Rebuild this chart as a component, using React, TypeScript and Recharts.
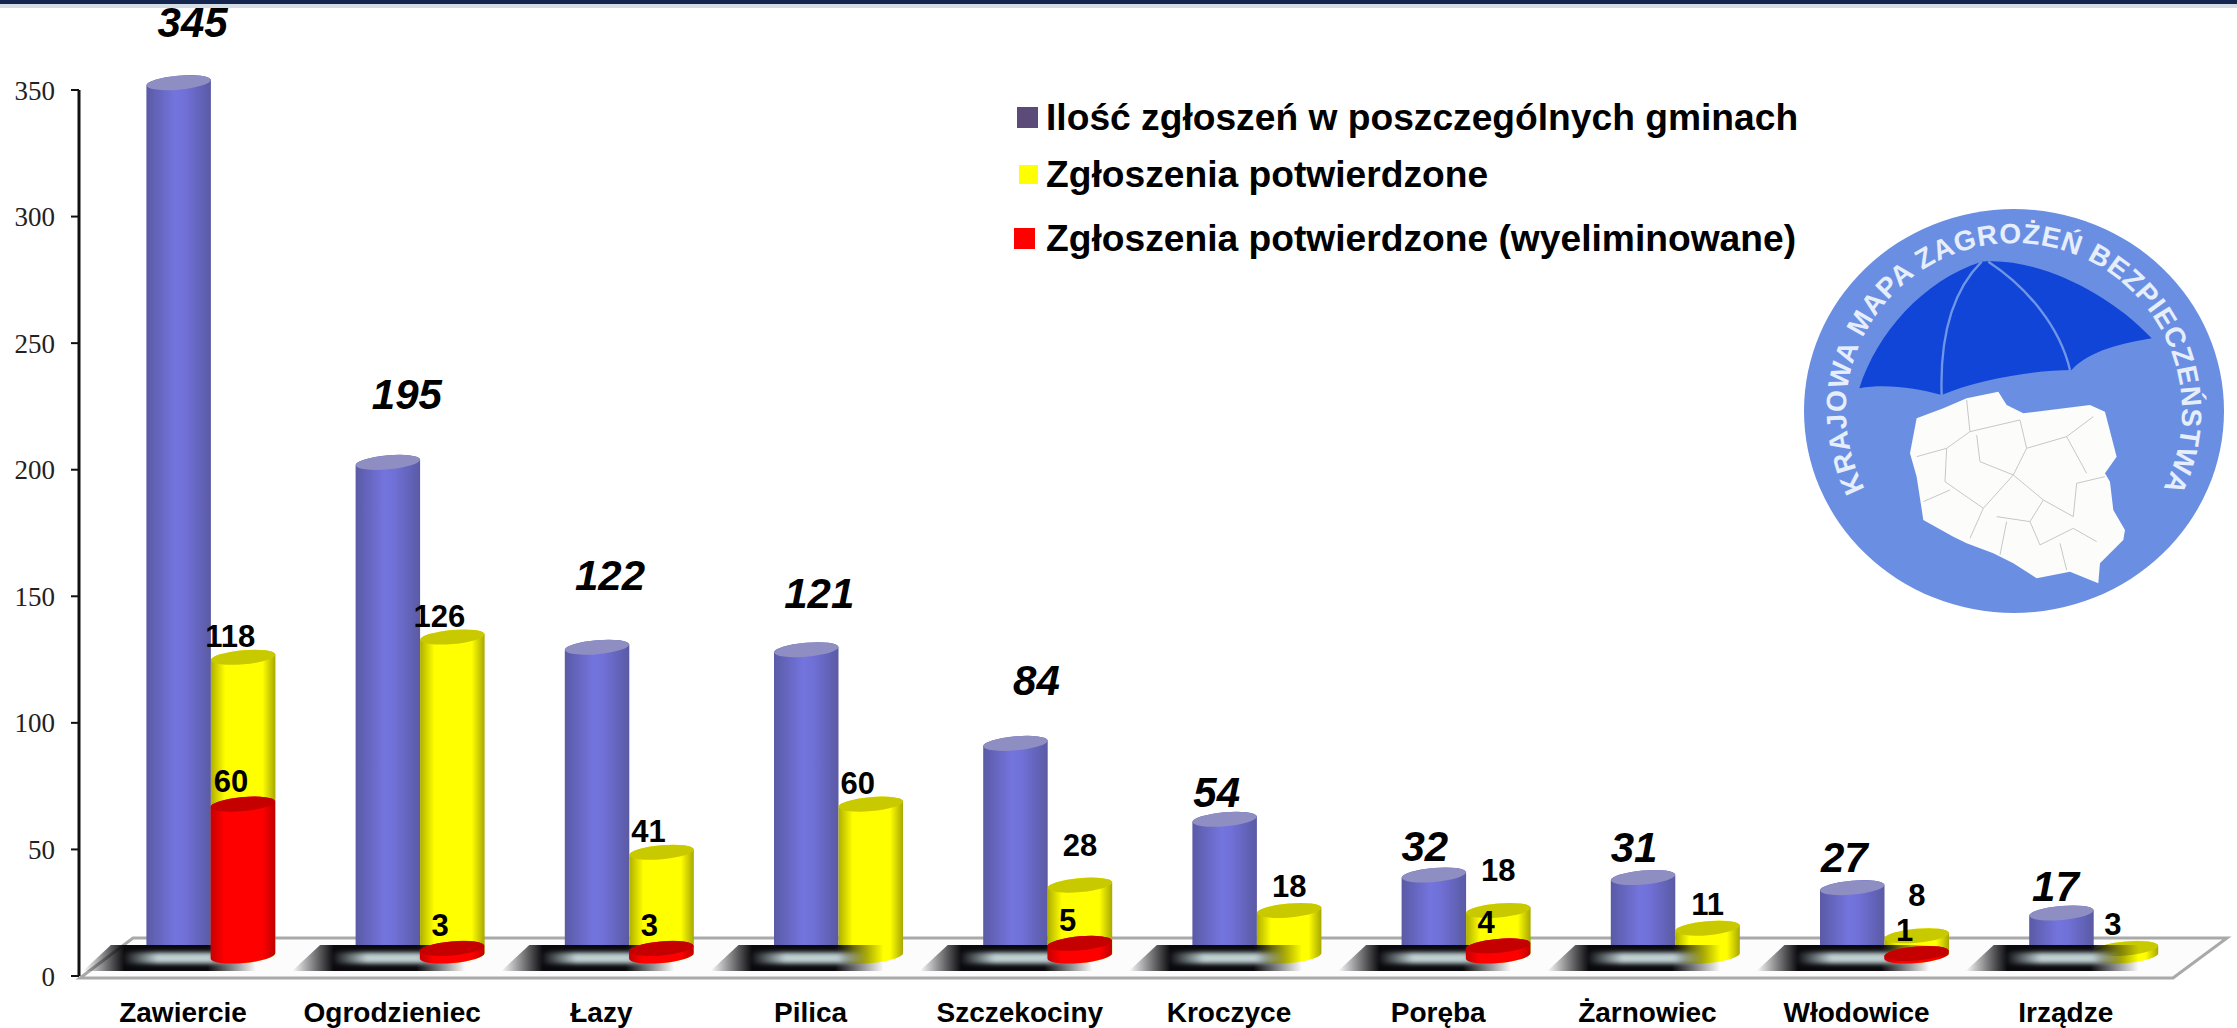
import React from 'react';
import { BarChart, Bar, XAxis, YAxis, Legend, LabelList, Customized } from 'recharts';

const categories = ['Zawiercie', 'Ogrodzieniec', 'Łazy', 'Pilica', 'Szczekociny', 'Kroczyce', 'Poręba', 'Żarnowiec', 'Włodowice', 'Irządze'];
const reported = [345, 195, 122, 121, 84, 54, 32, 31, 27, 17];
const confirmed = [118, 126, 41, 60, 28, 18, 18, 11, 8, 3];
const eliminated = [60, 3, 3, null, 5, null, 4, null, 1, null];
const yTicks = [0, 50, 100, 150, 200, 250, 300, 350];

const seriesNames = [
  'Ilość zgłoszeń w poszczególnych gminach',
  'Zgłoszenia potwierdzone',
  'Zgłoszenia potwierdzone (wyeliminowane)',
];

const data = categories.map((name, i) => ({
  name,
  reported: reported[i],
  confirmed: confirmed[i],
  eliminated: eliminated[i],
}));

const SANS = '"Liberation Sans", Arial, sans-serif';
const SERIF = '"Liberation Serif", "Times New Roman", serif';

// the cylinders stand on the floor, a bit above the axis zero
const DEPTH = 20;
const TILT = -5;
const CAP_RY = 7;

const Cylinder = ({ x, y, width, height, value, body, cap, children }: any) => {
  if (value == null) return null;
  const rx = width / 2;
  const slope = rx * Math.sin((-TILT * Math.PI) / 180);
  const top = y - DEPTH;
  const bottom = y + height - DEPTH;
  const outline =
    `M${x} ${top + slope} L${x} ${bottom + slope} ` +
    `A${rx} ${CAP_RY} ${TILT} 0 0 ${x + width} ${bottom - slope} ` +
    `L${x + width} ${top - slope} A${rx} ${CAP_RY} ${TILT} 0 0 ${x} ${top + slope} Z`;
  return (
    <g>
      <path d={outline} fill={`url(#${body})`} />
      <ellipse cx={x + rx} cy={top} rx={rx} ry={CAP_RY} fill={cap} transform={`rotate(${TILT} ${x + rx} ${top})`} />
      {children}
    </g>
  );
};

// reflection on the floor, painted over the blue and yellow cylinders but under the red
const FloorShadow = ({ x, base }: { x: number; base: number }) => (
  <g>
    <polygon
      points={`${x - 100},${base - 31} ${x + 45},${base - 31} ${x + 45},${base - 5} ${x - 128},${base - 5}`}
      fill="url(#shadowFade)"
    />
    <rect x={x - 88} y={base - 23.5} width={116} height={11} fill="url(#shadowLight)" filter="url(#soft)" />
  </g>
);

const BlueBar = (props: any) => <Cylinder {...props} body="bodyBlue" cap="#8e8ec2" />;
const YellowBar = (props: any) => (
  <Cylinder {...props} body="bodyYellow" cap="#c9c900">
    <FloorShadow x={props.x} base={props.y + props.height} />
  </Cylinder>
);
const RedBar = (props: any) => <Cylinder {...props} body="bodyRed" cap="#c40000" />;

const blueLabelShift = [[14, -60], [19, -68], [13, -72], [13, -56], [21, -63], [-8, -27], [-9, -28], [-9, -30], [-8, -30], [-6, -26]];

const BlueLabel = ({ x, y, width, value, index }: any) => {
  const [dx, dy] = blueLabelShift[index];
  return (
    <text x={x + width / 2 + dx} y={y - DEPTH + dy} textAnchor="middle" dominantBaseline="central"
      fontFamily={SANS} fontSize={42} fontWeight="bold" fontStyle="italic" fill="#000">
      {value}
    </text>
  );
};

const YellowLabel = ({ x, y, width, value, index }: any) => {
  const big = value >= 41;
  const dx = big || value < 5 ? -13 : 0;
  const dy = big ? -21 : eliminated[index] != null ? -40 : -24;
  return (
    <text x={x + width / 2 + dx} y={y - DEPTH + dy} textAnchor="middle" dominantBaseline="central"
      fontFamily={SANS} fontSize={31} fontWeight="bold" fill="#000">
      {value}
    </text>
  );
};

const RedLabel = ({ x, y, width, value }: any) => {
  if (value == null) return null;
  return (
    <text x={x + width / 2 - 12} y={y - DEPTH - 23} textAnchor="middle" dominantBaseline="central"
      fontFamily={SANS} fontSize={31} fontWeight="bold" fill="#000">
      {value}
    </text>
  );
};

const CategoryTick = ({ x, y, payload }: any) => (
  <text x={x - 28} y={y - 2} textAnchor="middle" dominantBaseline="central"
    fontFamily={SANS} fontSize={28} fontWeight="bold" fill="#000">
    {payload.value}
  </text>
);

const legendSwatches = ['#5c4a78', '#ffff00', '#ff0000'];

const LegendRows = ({ payload }: any) => {
  const rows = [
    { top: 0, left: 3, size: 21 },
    { top: 57, left: 5, size: 19 },
    { top: 121, left: 0, size: 21 },
  ];
  return (
    <div style={{ position: 'relative', height: 170, fontFamily: SANS, fontSize: 37.2, fontWeight: 'bold', color: '#000' }}>
      {(payload || []).map((entry: any, i: number) => (
        <div key={entry.value} style={{ position: 'absolute', top: rows[i].top, left: 0, height: 44, lineHeight: '44px', whiteSpace: 'nowrap' }}>
          <span style={{ position: 'absolute', left: rows[i].left, top: 22 - rows[i].size / 2, width: rows[i].size, height: rows[i].size, background: legendSwatches[i] }} />
          <span style={{ position: 'absolute', left: 32 }}>{entry.value}</span>
        </div>
      ))}
    </div>
  );
};

const Floor = () => (
  <g>
    <rect x={0} y={0} width={2237} height={4} fill="#14264f" />
    <rect x={0} y={4} width={2237} height={4} fill="#9fb2c8" opacity={0.45} />
    <polygon points="80,978 133,938 2227,938 2173,978" fill="#fcfcfc" stroke="#a9a9a9" strokeWidth={3} />
  </g>
);

// emblem, traced in the pixel grid of a 3x crop and scaled back down
const Logo = () => (
  <g>
    <ellipse cx={2014} cy={411} rx={210} ry={202} fill="#6a8fe2" />
    <path id="logoArc" d="M1869 496 A168 168 0 1 1 2159 496" fill="none" />
    <text fontFamily={SANS} fontSize={28} fontWeight="bold" fill="#e6eefc" letterSpacing={0.8}>
      <textPath href="#logoArc" startOffset="50%" textAnchor="middle">KRAJOWA MAPA ZAGROŻEŃ BEZPIECZEŃSTWA</textPath>
    </text>
    <g transform="translate(1780 200) scale(0.3333)">
      <path d="M238,565 C290,400 430,240 605,185 C760,170 980,270 1115,415 C1030,430 930,450 875,510 C760,510 590,540 485,585 C410,565 320,550 238,565 Z" fill="#1045d8" />
      <path d="M605,185 C510,280 480,430 485,585 M625,185 C740,260 840,380 870,510" fill="none" stroke="#6f96e6" strokeWidth={7} />
      <path d="M410,655 L490,625 L560,595 L655,575 L680,615 L730,640 L930,615 L975,635 L1010,770 L975,820 L990,845 L1000,930 L1035,990 L1030,1020 L960,1090 L955,1150 L870,1115 L770,1135 L700,1090 L640,1060 L560,1030 L520,1010 L430,960 L410,830 L390,760 Z" fill="#fcfdfb" />
      <path d="M560,600 L570,695 L500,745 L410,770 M570,695 L720,660 L740,745 L860,710 L940,650 M590,705 L600,785 L700,825 L740,745 M500,745 L495,845 L610,925 L700,825 L790,900 L880,950 L890,850 L975,830 M860,710 L920,820 M430,905 L510,870 M610,925 L570,1015 M650,950 L750,965 L780,1035 L880,985 L950,1025 M680,965 L660,1065 M840,1030 L860,1110 M790,900 L750,965" fill="none" stroke="#c4c8c8" strokeWidth={3} />
    </g>
  </g>
);

export default function App() {
  return (
    <div style={{ position: 'absolute', left: 0, top: 0, width: 2237, height: 1028, background: '#fff' }}>
      <BarChart width={2237} height={1028} data={data} barSize={64.5} barGap={0} margin={{ top: 90, right: 6, bottom: 0, left: 0 }}>
        <defs>
          <linearGradient id="bodyBlue" x1="0" x2="1" y1="0" y2="0">
            <stop offset="0" stopColor="#5a5aa6" />
            <stop offset="0.45" stopColor="#7474de" />
            <stop offset="0.6" stopColor="#7070d8" />
            <stop offset="1" stopColor="#5a5aa4" />
          </linearGradient>
          <linearGradient id="bodyYellow" x1="0" x2="1" y1="0" y2="0">
            <stop offset="0" stopColor="#b0b000" />
            <stop offset="0.22" stopColor="#ffff00" />
            <stop offset="0.8" stopColor="#ffff00" />
            <stop offset="1" stopColor="#a8a800" />
          </linearGradient>
          <linearGradient id="bodyRed" x1="0" x2="1" y1="0" y2="0">
            <stop offset="0" stopColor="#c80000" />
            <stop offset="0.22" stopColor="#ff0000" />
            <stop offset="0.8" stopColor="#ff0000" />
            <stop offset="1" stopColor="#c00000" />
          </linearGradient>
          <linearGradient id="shadowFade" x1="0" x2="1" y1="0" y2="0">
            <stop offset="0" stopColor="#0a0a0e" stopOpacity="0" />
            <stop offset="0.24" stopColor="#0a0a0e" stopOpacity="1" />
            <stop offset="0.72" stopColor="#0a0a0e" stopOpacity="1" />
            <stop offset="1" stopColor="#0a0a0e" stopOpacity="0" />
          </linearGradient>
          <linearGradient id="shadowLight" x1="0" x2="1" y1="0" y2="0">
            <stop offset="0" stopColor="#bfd0d2" stopOpacity="0" />
            <stop offset="0.3" stopColor="#bfd0d2" stopOpacity="1" />
            <stop offset="0.75" stopColor="#bfd0d2" stopOpacity="1" />
            <stop offset="1" stopColor="#bfd0d2" stopOpacity="0" />
          </linearGradient>
          <filter id="soft" x="-10%" y="-60%" width="120%" height="220%">
            <feGaussianBlur stdDeviation="2" />
          </filter>
        </defs>
        <Customized component={Floor} />
        <Customized component={Logo} />
        <XAxis xAxisId="main" dataKey="name" height={52} padding={{ left: 27.4, right: 32.6 }} interval={0}
          tick={<CategoryTick />} tickLine={false} axisLine={false} />
        <XAxis xAxisId="front" dataKey="name" hide padding={{ left: 59.65, right: 0.35 }} />
        <YAxis width={79} domain={[0, 350]} ticks={yTicks} interval={0} tickSize={8} tickMargin={16}
          tick={{ fontFamily: SERIF, fontSize: 27, fill: '#222' }}
          tickLine={{ stroke: '#111', strokeWidth: 2 }} axisLine={{ stroke: '#111', strokeWidth: 3 }} />
        <Bar xAxisId="main" dataKey="reported" name={seriesNames[0]} fill="#7272d8" shape={<BlueBar />} isAnimationActive={false}>
          <LabelList dataKey="reported" content={<BlueLabel />} />
        </Bar>
        <Bar xAxisId="main" dataKey="confirmed" name={seriesNames[1]} fill="#ffff00" shape={<YellowBar />} isAnimationActive={false}>
          <LabelList dataKey="confirmed" content={<YellowLabel />} />
        </Bar>
        <Bar xAxisId="front" dataKey="eliminated" name={seriesNames[2]} fill="#ff0000" shape={<RedBar />} isAnimationActive={false}>
          <LabelList dataKey="eliminated" content={<RedLabel />} />
        </Bar>
        <Legend verticalAlign="middle" content={<LegendRows />} wrapperStyle={{ position: 'absolute', left: 1014, top: 95, width: 820, bottom: 'auto' }} />
      </BarChart>
    </div>
  );
}
